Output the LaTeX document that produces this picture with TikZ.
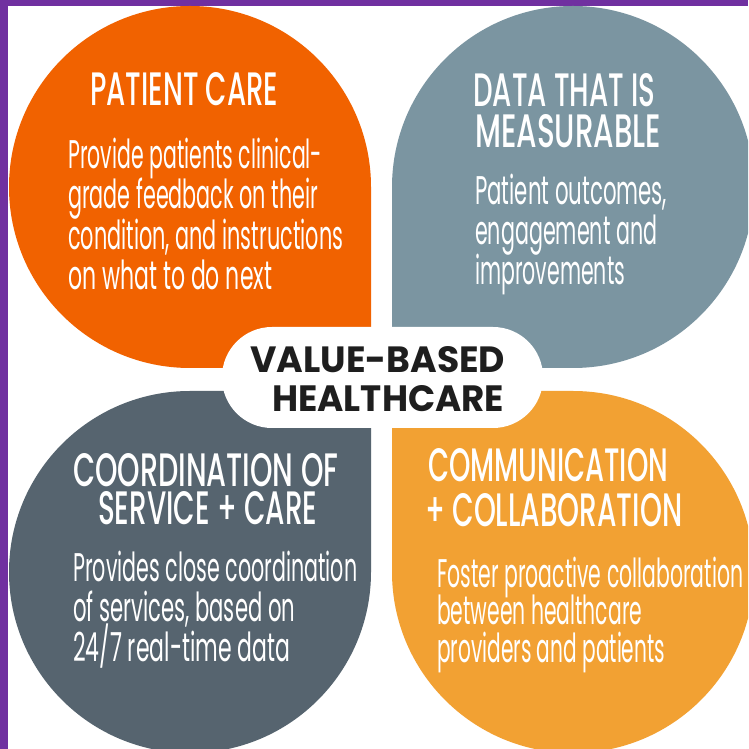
\documentclass[tikz,border=0pt]{standalone}
\usepackage{fontspec}
\usepackage{graphicx}
\setmainfont{Poppins}
\newfontfamily\headf{Poppins Medium}
\newfontfamily\bodyf{Poppins}
\definecolor{cOr}{RGB}{241,98,0}
\definecolor{cGb}{RGB}{123,149,161}
\definecolor{cSl}{RGB}{86,100,111}
\definecolor{cLo}{RGB}{242,161,51}
\definecolor{cPu}{RGB}{112,48,160}
\definecolor{cTx}{RGB}{30,30,30}
\newcommand{\fitw}[2]{\resizebox{#1}{\height}{#2}}
\newcommand{\fitwh}[3]{\resizebox{#1}{#2}{#3}}
\begin{document}
\begin{tikzpicture}[x=1pt,y=1pt,
  hd/.style={anchor=base west, inner sep=0pt, text=white, font=\headf\fontsize{40}{40}\selectfont},
  bd/.style={anchor=base west, inner sep=0pt, text=white, font=\bodyf\fontsize{40}{40}\selectfont},
  ct/.style={anchor=base west, inner sep=0pt, text=cTx, font=\bfseries\fontsize{34}{34}\selectfont}]
\useasboundingbox (0,0) rectangle (748,749);
\clip (0,0) rectangle (748,749);
\fill[white] (0,0) rectangle (748,749);
\fill[cPu] (0,0) rectangle (8,749);
\fill[cPu] (0,743) rectangle (748,749);
% petals
\fill[cOr] (371,561) -- (371,381) -- (190,381) arc[start angle=270, end angle=0, radius=181] -- cycle;
\fill[cGb] (392,562) -- (392,381) -- (573,381) arc[start angle=-90, end angle=180, radius=181] -- cycle;
\fill[cSl] (190,358) -- (371,358) -- (371,177) arc[start angle=0, end angle=-270, radius=181] -- cycle;
\fill[cLo] (392,177) -- (392,358) -- (573,358) arc[start angle=90, end angle=-180, radius=181] -- cycle;
% centre pill
\node[fill=white, rounded corners=50pt, minimum width=321pt, minimum height=101pt, inner sep=0pt] (pill) at (382.5,371.5) {};
\node[ct] (c1) at (250,376) {\fitwh{255pt}{26pt}{VALUE-BASED}};
\node[ct] (c2) at (272,337.3) {\fitwh{232pt}{26pt}{HEALTHCARE}};
% top left
\node[hd] (tlh) at (90,643.3) {\fitwh{188pt}{33pt}{PATIENT CARE}};
\node[bd] (tl1) at (68,580.7) {\fitw{254pt}{Provide patients clinical-}};
\node[bd] (tl2) at (68,540) {\fitw{250pt}{grade feedback on their}};
\node[bd] (tl3) at (68,499.5) {\fitw{275pt}{condition, and instructions}};
\node[bd] (tl4) at (68,459) {\fitw{204pt}{on what to do next}};
% top right
\node[hd] (trh1) at (473,642.3) {\fitwh{182pt}{33pt}{DATA THAT IS}};
\node[hd] (trh2) at (475,601.7) {\fitwh{186pt}{33pt}{MEASURABLE}};
\node[bd] (tr1) at (475,544) {\fitw{192pt}{Patient outcomes,}};
\node[bd] (tr2) at (475,504) {\fitw{182pt}{engagement and}};
\node[bd] (tr3) at (475,464) {\fitw{150pt}{improvements}};
% bottom left
\node[hd] (blh1) at (73,262.3) {\fitwh{265pt}{33pt}{COORDINATION OF}};
\node[hd] (blh2) at (98,224) {\fitwh{219pt}{33pt}{SERVICE + CARE}};
\node[bd] (bl1) at (73,167.3) {\fitw{284pt}{Provides close coordination}};
\node[bd] (bl2) at (73,127) {\fitw{222pt}{of services, based on}};
\node[bd] (bl3) at (73,87) {\fitw{217pt}{24/7 real-time data}};
% bottom right
\node[hd] (brh1) at (428,267.3) {\fitwh{240pt}{33pt}{COMMUNICATION}};
\node[hd] (brh2) at (425,222) {\fitwh{257pt}{33pt}{+ COLLABORATION}};
\node[bd] (br1) at (437,161) {\fitw{306pt}{Foster proactive collaboration}};
\node[bd] (br2) at (437,124) {\fitw{205pt}{between healthcare}};
\node[bd] (br3) at (437,86) {\fitw{228pt}{providers and patients}};
\end{tikzpicture}
\end{document}
